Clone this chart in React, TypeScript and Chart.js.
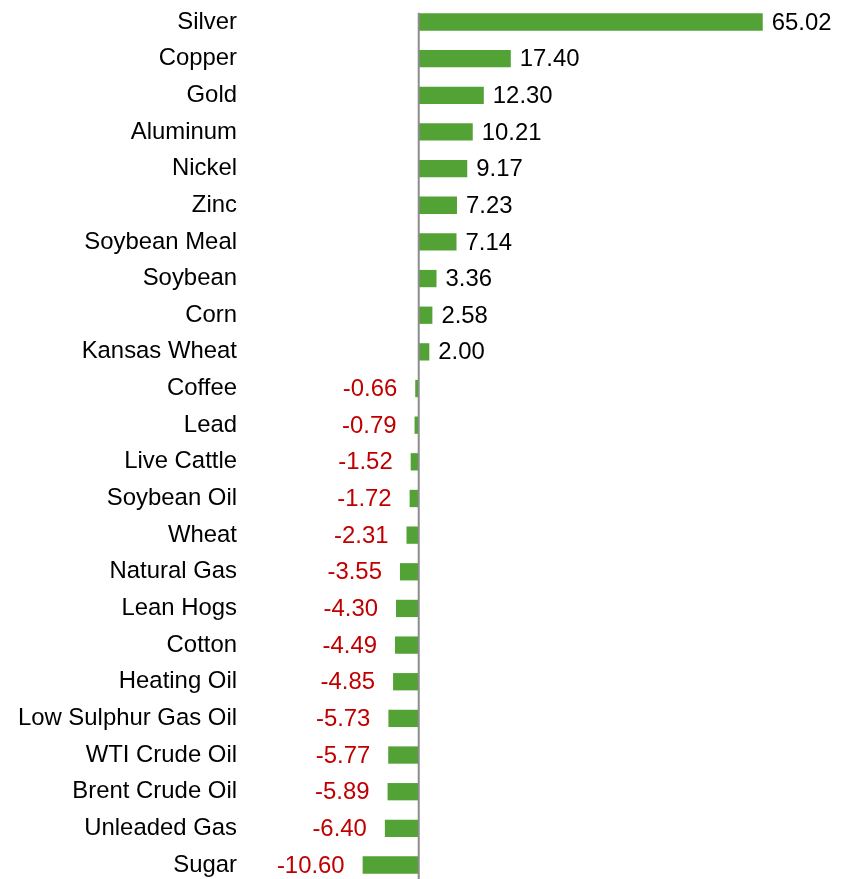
import React, { useEffect, useRef } from "react";
import { Chart, registerables } from "chart.js";

Chart.register(...registerables);

const categories: string[] = [
  "Silver", "Copper", "Gold", "Aluminum", "Nickel", "Zinc", "Soybean Meal", "Soybean",
  "Corn", "Kansas Wheat", "Coffee", "Lead", "Live Cattle", "Soybean Oil", "Wheat",
  "Natural Gas", "Lean Hogs", "Cotton", "Heating Oil", "Low Sulphur Gas Oil",
  "WTI Crude Oil", "Brent Crude Oil", "Unleaded Gas", "Sugar",
];

const changes: number[] = [
  65.02, 17.4, 12.3, 10.21, 9.17, 7.23, 7.14, 3.36, 2.58, 2.0, -0.66, -0.79, -1.52,
  -1.72, -2.31, -3.55, -4.3, -4.49, -4.85, -5.73, -5.77, -5.89, -6.4, -10.6,
];

const FONT_FAMILY = '"Liberation Sans", Arial, sans-serif';
const FONT_SIZE = 23.9;

const valueLabelPlugin = {
  id: "valueLabels",
  afterDatasetsDraw(chart: any) {
    const ctx = chart.ctx;
    const meta = chart.getDatasetMeta(0);
    const data = chart.data.datasets[0].data as number[];
    ctx.save();
    ctx.font = `${FONT_SIZE}px ${FONT_FAMILY}`;
    ctx.textBaseline = "middle";
    meta.data.forEach((bar: any, i: number) => {
      const v = data[i];
      const txt = v.toFixed(2);
      if (v >= 0) {
        ctx.fillStyle = "#000000";
        ctx.textAlign = "left";
        ctx.fillText(txt, bar.x + 9, bar.y + 1);
      } else {
        ctx.fillStyle = "#C00000";
        ctx.textAlign = "right";
        ctx.fillText(txt, bar.x - 18, bar.y + 1);
      }
    });
    // zero axis line
    const x0 = chart.scales.x.getPixelForValue(0);
    const yScale = chart.scales.y;
    const step = (yScale.bottom - yScale.top) / (categories.length - 1);
    ctx.strokeStyle = "#8c8c8c";
    ctx.lineWidth = 2;
    ctx.beginPath();
    ctx.moveTo(x0, yScale.top - step * 0.25);
    ctx.lineTo(x0, chart.height);
    ctx.stroke();
    ctx.restore();
  },
};

export default function App() {
  const ref = useRef<HTMLCanvasElement>(null);
  useEffect(() => {
    document.body.style.margin = "0";
    const chart = new Chart(ref.current as HTMLCanvasElement, {
      type: "bar",
      data: {
        labels: categories,
        datasets: [
          {
            data: changes,
            backgroundColor: "#52a236",
            borderWidth: 0,
            categoryPercentage: 1,
            barPercentage: 0.472,
            clip: false as any,
          },
        ],
      },
      options: {
        indexAxis: "y",
        responsive: false,
        animation: false,
        layout: { padding: { left: 0, right: 11, top: 22, bottom: 14 } },
        plugins: { legend: { display: false }, tooltip: { enabled: false } },
        scales: {
          x: {
            type: "linear",
            min: -30,
            max: 80,
            display: false,
          },
          y: {
            type: "category",
            offset: false,
            grid: { display: false, drawTicks: false },
            border: { display: false },
            ticks: {
              autoSkip: false,
              padding: 23,
              color: "#000000",
              font: { family: FONT_FAMILY, size: FONT_SIZE },
            },
            afterFit: (scale: any) => {
              scale.width = 260;
              scale.paddingTop = 0;
              scale.paddingBottom = 0;
            },
          },
        },
      },
      plugins: [valueLabelPlugin],
    });
    return () => chart.destroy();
  }, []);
  return (
    <div style={{ width: 853, height: 879 }}>
      <canvas ref={ref} width={853} height={879} style={{ display: "block" }} />
    </div>
  );
}
